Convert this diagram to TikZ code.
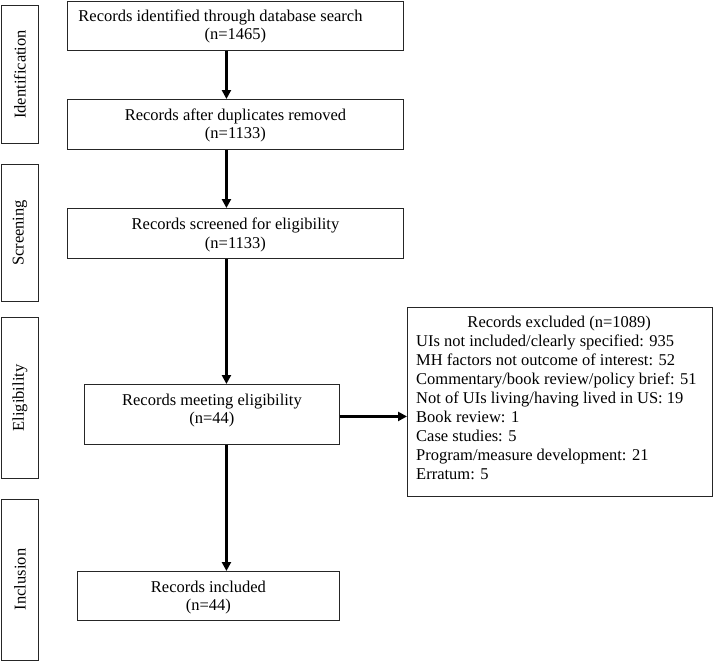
\documentclass[tikz,border=0pt]{standalone}
\usepackage{fontspec}
\setmainfont{Liberation Serif}
\usetikzlibrary{arrows.meta}
\begin{document}
\begin{tikzpicture}[x=1pt,y=-1pt,
  box/.style={draw=black!85, line width=0.9pt, inner sep=0pt, anchor=north west},
  txt/.style={align=center, inner sep=0pt, anchor=north, font=\fontsize{16.5}{18.5}\selectfont},
  txtl/.style={align=left, inner sep=0pt, anchor=north west, font=\fontsize{16.5}{19}\selectfont},
  stage/.style={rotate=90, inner sep=0pt, font=\fontsize{16.5}{18.5}\selectfont},
  flow/.style={line width=2.6pt, -{Triangle[width=9pt,length=9pt]}}]
\useasboundingbox (0,0) rectangle (714,661);

% stage boxes
\node[box, minimum width=37pt, minimum height=138pt] (s1) at (1,5) {};
\node[stage] (l1) at (s1.center) {Identification};
\node[box, minimum width=37pt, minimum height=137pt] (s2) at (1,164) {};
\node[stage] (l2) at (s2.center) {Screening};
\node[box, minimum width=37pt, minimum height=161pt] (s3) at (1,317) {};
\node[stage] (l3) at (s3.center) {Eligibility};
\node[box, minimum width=37pt, minimum height=161pt] (s4) at (1,498.5) {};
\node[stage] (l4) at (s4.center) {Inclusion};

% flow boxes
\node[box, minimum width=336pt, minimum height=49pt] (b1) at (67,1) {};
\node[txt] (t1) at (b1.north) {\rule{0pt}{20pt}Records identified through database search\rule{30pt}{0pt}\\(n=1465)};
\node[box, minimum width=336pt, minimum height=50pt] (b2) at (67,99) {};
\node[txt] (t2) at (b2.north) {\rule{0pt}{21pt}Records after duplicates removed\\(n=1133)};
\node[box, minimum width=336pt, minimum height=50pt] (b3) at (67,208) {};
\node[txt] (t3) at (b3.north) {\rule{0pt}{21.5pt}Records screened for eligibility\\(n=1133)};
\node[box, minimum width=255pt, minimum height=60pt] (b4) at (84,384) {};
\node[txt] (t4) at (b4.north) {\rule{0pt}{21pt}Records meeting eligibility\\(n=44)};
\node[box, minimum width=262pt, minimum height=49pt] (b6) at (77,571) {};
\node[txt] (t6) at (b6.north) {\rule{0pt}{21pt}Records included\\(n=44)};
\node[box, minimum width=305pt, minimum height=189pt] (b5) at (407,307) {};
\node[txtl] (t5) at ([xshift=9pt]b5.north west) {\rule{0pt}{20pt}\makebox[286pt]{Records excluded (n=1089)}\\
UIs not included/clearly specified: 935\\
MH factors not outcome of interest: 52\\
Commentary/book review/policy brief: 51\\
Not of UIs living/having lived in US: 19\\
Book review: 1\\
Case studies: 5\\
Program/measure development: 21\\
Erratum: 5};

% connectors
\draw[flow] ([xshift=-9pt]b1.south) -- ([xshift=-9pt]b2.north);
\draw[flow] ([xshift=-9pt]b2.south) -- ([xshift=-9pt]b3.north);
\draw[flow] ([xshift=-9pt]b3.south) -- ([xshift=-9pt]b3.south |- b4.north);
\draw[flow] ([xshift=14.5pt]b4.south) -- ([xshift=14.5pt]b4.south |- b6.north);
\draw[flow] ([yshift=-2pt]b4.east) -- ([yshift=-2pt]b4.east -| b5.west);
\end{tikzpicture}
\end{document}
